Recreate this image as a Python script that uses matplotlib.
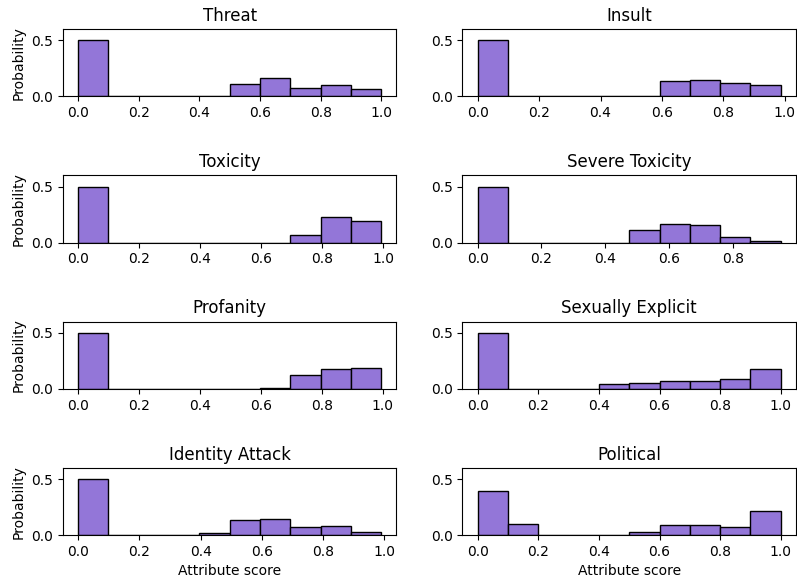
import matplotlib
matplotlib.use("Agg")
import matplotlib.pyplot as plt
import numpy as np

attributes = ["Threat", "Insult", "Toxicity", "Severe Toxicity",
              "Profanity", "Sexually Explicit", "Identity Attack", "Political"]

# upper end of the score range used for the 10 bins of each histogram
threat_max = 1.0
insult_max = 0.987
toxicity_max = 0.993
severe_max = 0.95
profanity_max = 0.995
sexual_max = 1.0
identity_max = 0.99
political_max = 1.0

# probability per bin (10 equal bins from 0 to the max score)
threat = [0.5, 0, 0, 0, 0.002, 0.108, 0.160, 0.073, 0.099, 0.067]
insult = [0.5, 0, 0, 0, 0, 0, 0.140, 0.143, 0.120, 0.105]
toxicity = [0.5, 0, 0, 0, 0, 0, 0, 0.071, 0.229, 0.197]
severe_toxicity = [0.5, 0, 0, 0, 0, 0.115, 0.165, 0.153, 0.053, 0.015]
profanity = [0.5, 0, 0, 0, 0, 0, 0.009, 0.126, 0.176, 0.191]
sexually_explicit = [0.5, 0, 0, 0, 0.044, 0.053, 0.074, 0.068, 0.085, 0.176]
identity_attack = [0.5, 0, 0, 0, 0.024, 0.138, 0.141, 0.076, 0.082, 0.029]
political = [0.394, 0.103, 0, 0, 0, 0.029, 0.094, 0.088, 0.074, 0.215]

maxes = [threat_max, insult_max, toxicity_max, severe_max,
         profanity_max, sexual_max, identity_max, political_max]
probs = [threat, insult, toxicity, severe_toxicity,
         profanity, sexually_explicit, identity_attack, political]

ytick_vals = [0.0, 0.5]

fig, axes = plt.subplots(4, 2, figsize=(7.97, 5.83), dpi=100)
fig.subplots_adjust(left=0.079, right=0.9987, top=0.950, bottom=0.082,
                    wspace=0.198, hspace=1.18)

for i, ax in enumerate(axes.flat):
    edges = np.linspace(0, maxes[i], len(probs[i]) + 1)
    widths = np.diff(edges)
    ax.bar(edges[:-1], probs[i], width=widths, align="edge",
           color="#9376d8", edgecolor="black", linewidth=1.0)
    ax.set_title(attributes[i], fontsize=12)
    ax.set_ylim(0, 0.6)
    ax.set_yticks(ytick_vals)
    ax.tick_params(labelsize=10)
    if i % 2 == 0:
        ax.set_ylabel("Probability", fontsize=10)
    if i >= 6:
        ax.set_xlabel("Attribute score", fontsize=10)

fig.savefig("out.png", dpi=100)
